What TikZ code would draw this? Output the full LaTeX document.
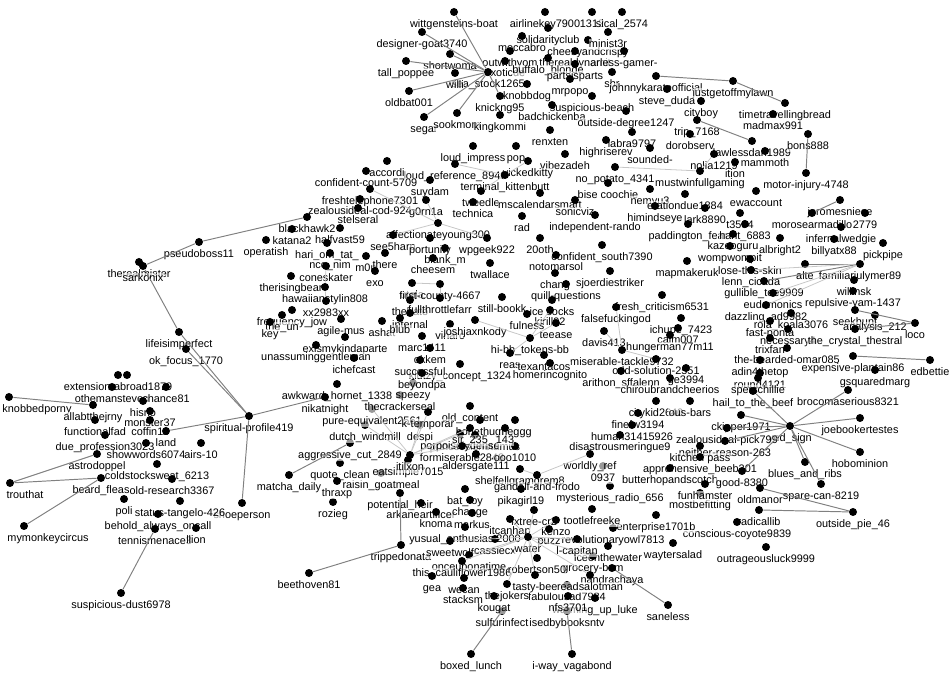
\documentclass[tikz,border=0pt]{standalone}
\usepackage{fontspec}
\setmainfont{Liberation Sans}
\usetikzlibrary{positioning}
\tikzset{
dot/.style={
	circle,fill=black,draw=none,
	inner sep=0pt,minimum size=1.6mm
}
, acct/.style={dot,label=below:{#1}}
, every label/.style={
	font=\fontsize{6.2}{7}\selectfont,
	inner sep=0.2pt,text height=1.6mm,text depth=0.5mm,
	fill=white,fill opacity=0.6,text opacity=1
}
% links
, link/.style={draw=black!50,line width=0.55pt}
, faint/.style={draw=black!22,line width=0.45pt}
}

\begin{document}
\begin{tikzpicture}[x=0.02cm,y=-0.02cm,label distance=0.5mm]
	\useasboundingbox (0,0) rectangle (950,678);
	% top cluster
	\node[acct=wittgensteins-boat] (wittgen) at (454,12) {};
	\node[acct=airlinekey7900] (airline) at (545,12) {};
	\node[acct=1312] (n1312) at (592,12) {};
	\node[acct=sical\_2574] (sical) at (622,12) {};
	\node[acct=solidarityclub] (solidarity) at (548,28) {};
	\node[acct=designer-goat3740] (designer) at (422,32) {};
	\node[acct=moccabro] (moccabro) at (522,36) {};
	\node[acct=cheesyandcrispy] (cheesy) at (588,40) {};
	\node[acct=minist3r] (minist) at (608,32) {};
	\node[acct=shortwoma] (shortwoma) at (450,54) {};
	\node[acct=outwithyom] (outwithyom) at (510,51) {};
	\node[acct=therealdynamit] (therealdyn) at (575,51) {};
	\node[acct=arless-gamer-] (fearless) at (624,51) {};
	\node[acct=tall\_poppee] (tallpoppee) at (406,61) {};
	\node[acct=exoticde] (exoticde) at (505,61) {};
	\node[acct=buffalo\_blonde] (buffalo) at (548,58) {};
	\node[acct=partsisparts] (partsis) at (575,64) {};
	\node[acct=sea\_stock1265] (seastock) at (488,72) {};
	\node[acct=willi] (willi) at (455,73) {};
	\node[acct=mrpopo] (mrpopo) at (570,79) {};
	\node[acct=shr] (shr) at (612,72) {};
	\node[acct=johnnykarateofficial] (johnny) at (656,76) {};
	\node[acct=oldbat001] (oldbat) at (409,91) {};
	\node[acct=knobbdog] (knobbdog) at (527,84) {};
	\node[acct=justgetoffmylawn] (justget) at (733,81) {};
	\node[acct=steve\_duda] (steveduda) at (667,89) {};
	\node[acct=suspicious-beach] (susbeach) at (592,96) {};
	\node[acct=knickng95] (knickng) at (500,96) {};
	\node[acct=cityboy] (cityboy) at (701,101) {};
	\node[acct=timetravellingbread] (timetrav) at (785,103) {};
	\node[acct=segar] (segar) at (424,117) {};
	\node[acct=sookmom] (sookmom) at (457,113) {};
	\node[acct=kingkommi] (kingkom) at (500,115) {};
	\node[acct=badchickenba] (badchicken) at (552,105) {};
	\node[acct=outside-degree1247] (outsidedeg) at (626,111) {};
	\node[acct=madmax991] (madmax) at (773,114) {};
	\node[acct=renxten] (renxten) at (550,130) {};
	\node[acct=trip\_7168] (trip) at (697,120) {};
	\node[acct=labra9797] (labra) at (632,132) {};
	\node[acct=dorobserv] (dorobserv) at (690,134) {};
	\node[acct=lawlessdan1989] (lawless) at (752,141) {};
	\node[acct=bons888] (bons) at (808,134) {};
	\node[acct=highriserev] (highrise) at (606,140) {};
	\node[acct=mammoth] (mammoth) at (765,151) {};
	\node[acct=vibezadeh] (vibezadeh) at (565,154) {};
	\node[acct=sounded-] (sounded) at (650,148) {};
	\node[acct=nolia1219] (nolia) at (714,154) {};
	\node[acct=ition] (ition) at (735,162) {};
	\node[acct=no\_potato\_4341] (nopotato) at (615,167) {};
	\node[acct=mustwinfullgaming] (mustwin) at (700,171) {};
	\node[acct=motor-injury-4748] (motor) at (806,173) {};
	% upper core
	\node[acct=loud\_impress] (loudimp) at (473,146) {};
	\node[acct=loud\_reference\_8946] (loudref) at (455,164) {};
	\node[acct=pop] (pop) at (516,146) {};
	\node[acct=vickedkitty] (vicked) at (528,161) {};
	\node[acct=accordi] (accordi) at (387,161) {};
	\node[acct=confident-count-5709] (confcount) at (366,171) {};
	\node[acct=suydam] (suydam) at (430,180) {};
	\node[acct=terminal\_kittenbutt] (terminal) at (505,175) {};
	\node[acct={bise coochie}] (bise) at (608,183) {};
	\node[acct=nemyu3] (nemyu) at (650,189) {};
	\node[acct=erationdue1884] (arationdue) at (685,194) {};
	\node[acct=ewaccount] (ewaccount) at (756,191) {};
	\node[acct=jeromesniece] (jerome) at (840,200) {};
	\node[acct=freshtelephone7301] (freshtel) at (370,189) {};
	\node[acct=tweedle] (tweedle) at (481,191) {};
	\node[acct=mscalendarsmart] (mscal) at (540,193) {};
	\node[acct=sonicviz] (sonicviz) at (575,200) {};
	\node[acct=zealousideal-cod-924] (zealcod) at (360,199) {};
	\node[acct=g0rn1a] (g0rn) at (426,200) {};
	\node[acct=technica] (technica) at (473,202) {};
	\node[acct=himindseye] (himinds) at (655,206) {};
	\node[acct=lark8890] (lark) at (705,208) {};
	\node[acct=t3584] (t3584) at (740,213) {};
	\node[acct=morosearmadillo] (morose) at (812,213) {};
	\node[acct=2779] (n2779) at (865,213) {};
	\node[acct=stelseral] (stelseral) at (358,208) {};
	\node[acct=independent-rando] (indep) at (595,215) {};
	\node[acct=rad] (rad) at (522,216) {};
	\node[acct=blackhawk2] (blackhawk) at (307,217) {};
	\node[acct=paddington\_fear] (paddington) at (688,224) {};
	\node[acct=hant\_6883] (hant) at (745,224) {};
	\node[acct=infernalwedgie] (infernal) at (841,227) {};
	\node[acct=affectionateyoung300] (affection) at (438,223) {};
	\node[acct=halfvast59] (halfvast) at (340,228) {};
	\node[acct=katana2] (katana) at (292,229) {};
	\node[acct=see5harp] (see5harp) at (393,235) {};
	\node[acct=portunity] (portunity) at (430,238) {};
	\node[acct=wpgeek922] (wpgeek) at (487,238) {};
	\node[acct=20oth] (oth20) at (540,238) {};
	\node[acct=confident\_south7390] (confsouth) at (602,245) {};
	\node[acct=kazooguru] (kazoo) at (733,234) {};
	\node[acct=albright2] (albright) at (780,238) {};
	\node[acct=billyatx88] (billyatx) at (834,239) {};
	\node[acct=wompwompit] (wompwomp) at (730,246) {};
	\node[acct=pickpipe] (pickpipe) at (883,243) {};
	% middle core
	\node[acct=operatish] (operatish) at (266,240) {};
	\node[acct=hari\_om\_tat\_] (hariom) at (327,243) {};
	\node[acct=nco\_nim] (nconim) at (330,253) {};
	\node[acct=m0n] (m0n) at (366,256) {};
	\node[acct=there] (there) at (385,253) {};
	\node[acct=blank\_m] (blank) at (445,248) {};
	\node[acct=cheesem] (cheesem) at (433,258) {};
	\node[acct=notomarsol] (notomarsol) at (556,255) {};
	\node[acct=mapmakeruk] (mapmaker) at (687,261) {};
	\node[acct=lose-this-skin] (loseskin) at (750,259) {};
	\node[acct=lenn\_cicada] (lenn) at (751,270) {};
	\node[acct=familiarjulymer89] (familiar) at (860,264) {};
	\node[acct=alte] (alte) at (805,264) {};
	\node[acct=willinsk] (willinsk) at (854,280) {};
	\node[acct=coneskater] (coneskater) at (326,266) {};
	\node[acct=therisingbear] (therising) at (291,276) {};
	\node[acct=exo] (exo) at (375,271) {};
	\node[acct=utela] (utela) at (412,283) {};
	\node[acct=first-county-4667] (firstcounty) at (440,284) {};
	\node[acct=twallace] (twallace) at (490,263) {};
	\node[acct=chang] (chang) at (555,273) {};
	\node[acct=sjoerdiestriker] (sjoerdie) at (610,271) {};
	\node[acct=quill-questions] (quill) at (566,284) {};
	\node[acct=gullible\_toe9909] (gullible) at (764,281) {};
	\node[acct=repulsive-yam-1437] (repulsive) at (853,291) {};
	\node[acct=hawaiianstylin808] (hawaiian) at (325,287) {};
	\node[acct=thehato] (thehato) at (410,300) {};
	\node[acct=fullthrottlefarr] (fullthrottle) at (440,298) {};
	\node[acct=still-bookk] (stillbook) at (502,297) {};
	\node[acct={ice socks}] (icesocks) at (552,300) {};
	\node[acct=fresh\_criticism6531] (freshcrit) at (662,295) {};
	\node[acct=eudamonics] (eudamonics) at (773,293) {};
	\node[acct=dazzling\_ad9982] (dazzling) at (766,305) {};
	\node[acct=seekhunt] (seekhunt) at (855,310) {};
	\node[acct=analysis\_212] (analysis) at (875,315) {};
	\node[acct=loco] (loco) at (915,323) {};
	\node[acct=xx2983xx] (xx2983) at (326,301) {};
	\node[acct=frequency\_jow] (frequency) at (292,310) {};
	\node[acct=the\_un] (theun) at (282,315) {};
	\node[acct=internal] (internal) at (410,313) {};
	\node[acct=agile-mus] (agilemus) at (341,319) {};
	\node[acct=key] (key) at (270,322) {};
	\node[acct=ashat] (ashat) at (382,321) {};
	\node[acct=blub] (blub) at (400,318) {};
	\node[acct=vinarc] (vinarc) at (450,324) {};
	\node[acct=joshjaxnkody] (joshjax) at (475,320) {};
	\node[acct=kirill92] (kirill) at (550,310) {};
	\node[acct=fulness] (fulness) at (527,314) {};
	\node[acct=teease] (teease) at (556,323) {};
	\node[acct=falsefuckingod] (falsefuck) at (616,307) {};
	\node[acct=ichupe\_7423] (ichupe) at (681,318) {};
	\node[acct=rola\_koala3076] (rolakoala) at (791,313) {};
	\node[acct=fast-ponta] (fastponta) at (770,321) {};
	\node[acct=calm007] (calm) at (678,328) {};
	\node[acct=necessary4] (necessary) at (788,329) {};
	\node[acct=the\_crystal\_thestral] (crystal) at (855,329) {};
	\node[acct=trixfan] (trixfan) at (770,338) {};
	\node[acct=hungerman77m11] (hunger) at (670,335) {};
	\node[acct=exismykindaparte] (exismy) at (345,337) {};
	\node[acct=marc1411] (marc) at (422,336) {};
	\node[acct=unassuminggentleman] (unassuming) at (316,345) {};
	\node[acct=okkem] (okkem) at (430,348) {};
	\node[acct=hi-bb\_tokens-bb] (hibb) at (530,338) {};
	\node[acct=davis413] (davis) at (604,331) {};
	\node[acct=miserable-tackle9732] (miserable) at (622,350) {};
	\node[acct=the-bearded-omar085] (bearded) at (787,348) {};
	\node[acct=expensive-plantain86] (expensive) at (853,356) {};
	\node[acct=edbettie] (edbettie) at (930,360) {};
	\node[acct=odd-solution-2551] (oddsol) at (656,359) {};
	\node[acct=adin4thetop] (adin) at (760,360) {};
	\node[acct=reas] (reas) at (510,353) {};
	\node[acct=texantacos] (texantacos) at (544,355) {};
	\node[acct=klutzy\_concept\_1324] (klutzy) at (460,364) {};
	\node[acct=homerincognito] (homer) at (550,363) {};
	\node[acct=ichefcast] (ichef) at (354,358) {};
	\node[acct=successful] (successful) at (420,360) {};
	\node[acct=arithon\_sffalenn] (arithon) at (621,371) {};
	\node[acct=ge3994] (ge3994) at (686,368) {};
	\node[acct=round4121] (round) at (760,373) {};
	\node[acct=gsquaredmarg] (gsquared) at (875,370) {};
	\node[acct=sperschillie] (spers) at (758,378) {};
	\node[acct=brocomaserious8321] (broco) at (848,390) {};
	\node[acct=chiroubrandcheerios] (chirou) at (670,378) {};
	\node[acct=hail\_to\_the\_beef] (hailbeef) at (753,391) {};
	\node[acct=citykid2640] (citykid) at (656,401) {};
	\node[acct=ous-bars] (ousbars) at (690,401) {};
	\node[acct=finefw3194] (finef) at (638,413) {};
	\node[acct=human31415926] (human) at (632,425) {};
	\node[acct=ckipper1971] (ckipper) at (741,415) {};
	% right side
	\node[acct=yed\_sign] (yedsign) at (790,426) {};
	\node[acct=joebookertestes] (joebooker) at (860,418) {};
	\node[acct=zealousideal-pick799] (zealpick) at (727,428) {};
	\node[acct=hobominion] (hobominion) at (860,452) {};
	\node[acct=blues\_and\_ribs] (blues) at (805,462) {};
	\node[acct=neither-reason-263] (neither) at (725,441) {};
	\node[acct=disastrousmeringue9] (disastrous) at (620,435) {};
	\node[acct={kitchen pass}] (kitchen) at (700,446) {};
	\node[acct=apprehensive\_beeb201] (apprehensive) at (700,457) {};
	\node[acct=butterhopandscotch] (butterhop) at (670,468) {};
	\node[acct=spare-can-8219] (sparecan) at (821,484) {};
	\node[acct=good-8380] (good) at (742,471) {};
	\node[acct=oldmanor] (oldmanor) at (760,488) {};
	\node[acct=radicallib] (radicallib) at (759,510) {};
	\node[acct=outside\_pie\_46] (outsidepie) at (853,512) {};
	\node[acct=conscious-coyote9839] (conscious) at (737,522) {};
	\node[acct=outrageousluck9999] (outrageous) at (766,547) {};
	\node[acct=mostbefitting] (mostbef) at (700,493) {};
	\node[acct=funhamster] (funham) at (705,484) {};
	% lower core
	\node[acct=mysterious\_radio\_656] (mysterious) at (610,486) {};
	\node[acct=enterprise1701b] (enterprise) at (656,515) {};
	\node[acct=revolutionaryowl7813] (revowl) at (613,528) {};
	\node[acct=waytersalad] (waytersalad) at (673,543) {};
	\node[acct=iceonthewater] (iceonwater) at (608,546) {};
	\node[acct=grocery-bam] (grocery) at (593,556) {};
	\node[acct=nandrachaya] (nandrachaya) at (612,568) {};
	\node[acct=saneless] (saneless) at (668,605) {};
	\node[acct=fabulousad7924] (fabulous) at (567,585) {};
	\node[acct=warming\_up\_luke] (warming) at (595,598) {};
	\node[acct=sulfurinfect] (sulfur) at (502,611) {};
	\node[acct=isedbybooksntv] (isedby) at (567,611) {};
	\node[acct=boxed\_lunch] (boxedlunch) at (471,654) {};
	\node[acct=i-way\_vagabond] (iway) at (572,654) {};
	\node[acct=beethoven81] (beethoven) at (309,573) {};
	\node[acct=trippedonata] (tripped) at (401,545) {};
	\node[acct=rozieg] (rozieg) at (333,502) {};
	\node[acct=shoeperson] (shoeperson) at (242,503) {};
	\node[acct=matcha\_daily] (matcha) at (289,475) {};
	\node[acct=raisin\_goatmeal] (raisin) at (381,473) {};
	\node[acct=quote\_clean] (quoteclean) at (340,463) {};
	\node[acct=eatsimple7015] (eatsimple) at (408,460) {};
	\node[acct=thraxp] (thraxp) at (337,481) {};
	\node[acct=aggressive\_cut\_2849] (aggressive) at (350,443) {};
	\node[acct=itilxon] (itilxon) at (410,455) {};
	\node[acct=dutch\_windmill] (dutch) at (365,425) {};
	\node[acct=pure-equivalent2561] (pureeq) at (372,409) {};
	\node[acct=thecrackerseal] (cracker) at (400,395) {};
	\node[acct=awkward\_hornet\_1338] (awkward) at (337,384) {};
	\node[acct=nikatnight] (nikatnight) at (325,397) {};
	\node[acct=speezy] (speezy) at (413,383) {};
	\node[acct=beyondpa] (beyondpa) at (422,373) {};
	\node[acct=old\_content] (oldcontent) at (470,406) {};
	\node[acct=bonethugf] (bonethug) at (480,420) {};
	\node[acct=meggg] (meggg) at (515,420) {};
	\node[acct=princessisnotamus] (princess) at (475,435) {};
	\node[acct=despi] (despi) at (420,425) {};
	\node[acct=porpoiselydense] (porpoise) at (460,434) {};
	\node[acct=sir\_235] (sir235) at (470,428) {};
	\node[acct=k-temporar] (ktemp) at (428,412) {};
	\node[acct=formiserable2848] (formiserable) at (462,446) {};
	\node[acct=ooo1010] (ooo1010) at (515,446) {};
	\node[acct=143] (n143) at (505,428) {};
	\node[acct=aldersgate111] (aldersgate) at (476,454) {};
	\node[acct=shelfellgramgrem8] (shelf) at (520,469) {};
	\node[acct=0937] (n0937) at (603,466) {};
	\node[acct=gandalf-and-frodo] (gandalf) at (537,475) {};
	\node[acct=worldly\_ref] (worldly) at (590,454) {};
	\node[acct=bat\_foy] (batfoy) at (465,489) {};
	\node[acct=potential\_heir] (potential) at (400,493) {};
	\node[acct=pikagirl19] (pikagirl) at (521,489) {};
	\node[acct=arkaneartificer] (arkane) at (421,503) {};
	\node[acct=change] (change) at (470,500) {};
	\node[acct=knoma] (knoma) at (436,512) {};
	\node[acct=markus] (markus) at (472,513) {};
	\node[acct=fxtree-cr2] (fxtree) at (534,510) {};
	\node[acct=tootlefreeke] (tootle) at (592,509) {};
	\node[acct=itcanhap] (itcanhap) at (510,519) {};
	\node[acct=kenzo] (kenzo) at (556,520) {};
	\node[acct=yusual\_enthusiast2000] (yusual) at (465,527) {};
	\node[acct=puzz] (puzz) at (549,529) {};
	\node[acct=sweetwolf] (sweetwolf) at (450,541) {};
	\node[acct=cassiecx] (cassiecx) at (495,539) {};
	\node[acct=water] (water) at (528,537) {};
	\node[acct=l-capitan] (lcapitan) at (577,539) {};
	\node[acct=onceuponatime] (onceupon) at (469,555) {};
	\node[acct=this\_cauliflower1986] (cauliflower) at (462,561) {};
	\node[acct=robertson50] (robertson) at (537,558) {};
	\node[acct=gea] (gea) at (432,576) {};
	\node[acct=wecan] (wecan) at (464,578) {};
	\node[acct=tasty-bee] (tastybee) at (535,575) {};
	\node[acct=readsalotman] (readsalot) at (590,575) {};
	\node[acct=thejokers] (thejokers) at (507,584) {};
	\node[acct=stacksm] (stacksm) at (463,588) {};
	\node[acct=kougat] (kougat) at (494,596) {};
	\node[acct=nfs3701] (nfs) at (568,596) {};
	% left side
	\node[acct=pseudoboss11] (pseudoboss) at (199,242) {};
	\node[acct=therealmister] (therealmister) at (139,262) {};
	\node[acct=sarkonix] (sarkonix) at (143,266) {};
	\node[acct=lifeisimperfect] (lifeisimp) at (179,332) {};
	\node[acct=ok\_focus\_1770] (okfocus) at (186,349) {};
	\node[acct=spiritual-profile419] (spiritual) at (249,416) {};
	\node[acct=extension-abroad1879] (extension) at (118,375) {};
	\node[dot] (abroad) at (127,375) {};
	\node[acct=othemansteveo] (othemans) at (112,387) {};
	\node[acct=chance81] (chance) at (166,387) {};
	\node[dot,label={[xshift=0.56cm]below:knobbedporny}] (knobbedporn) at (9,397) {};
	\node[acct=allabtthejrny] (allabt) at (93,405) {};
	\node[acct=hisno] (hisno) at (143,401) {};
	\node[acct=monster37] (monster) at (150,411) {};
	\node[acct=functionalfad] (functional) at (95,420) {};
	\node[acct=coffin11] (coffin) at (150,420) {};
	\node[acct=due\_profession3023] (dueprof) at (105,435) {};
	\node[acct=land] (land) at (166,431) {};
	\node[acct=showwords6074] (showwords) at (146,443) {};
	\node[acct=airs-10] (airs) at (201,443) {};
	\node[acct=astrodoppel] (astrodoppel) at (97,454) {};
	\node[acct=coldstocksweat\_6213] (coldstock) at (157,464) {};
	\node[acct=beard\_fleas] (beardfleas) at (101,478) {};
	\node[acct=old-research3367] (oldresearch) at (172,479) {};
	\node[acct=status-tangelo-426] (statustangelo) at (180,501) {};
	\node[acct=poli] (poli) at (124,499) {};
	\node[acct=behold\_always\_oncall] (behold) at (158,514) {};
	\node[acct=tennismenace3] (tennis) at (155,529) {};
	\node[acct=llion] (llion) at (196,528) {};
	\node[acct=suspicious-dust6978] (susdust) at (121,593) {};
	\node[dot,label={[xshift=0.48cm]below:mymonkeycircus}] (mymonkey) at (24,526) {};
	\node[dot,label={[xshift=0.3cm]below:trouthat}] (trouthat) at (10,483) {};

	% links
	\draw [link] (pseudoboss) -- (blackhawk);
	\draw [link] (pseudoboss) -- (sarkonix);
	\draw [link] (sarkonix) -- (lifeisimp);
	\draw [link] (lifeisimp) -- (spiritual);
	\draw [link] (okfocus) -- (spiritual);
	\draw [link] (spiritual) -- (nikatnight);
	\draw [link] (spiritual) -- (shoeperson);
	\draw [link] (spiritual) -- (land);
	\draw [link] (knobbedporn) -- (allabt);
	\draw [link] (trouthat) -- (beardfleas);
	\draw [link] (trouthat) -- (astrodoppel);
	\draw [link] (mymonkey) -- (beardfleas);
	\draw [link] (susdust) -- (tennis);
	\draw [link] (matcha) -- (aggressive);
	\draw [link] (beethoven) -- (tripped);
	\draw [link] (tripped) -- (potential);
	\draw [link] (sulfur) -- (boxedlunch);
	\draw [link] (isedby) -- (iway);
	\draw [link] (saneless) -- (nandrachaya);
	\draw [link] (outsidepie) -- (radicallib);
	\draw [link] (outsidepie) -- (oldmanor);
	\draw [link] (yedsign) -- (joebooker);
	\draw [link] (yedsign) -- (hobominion);
	\draw [link] (yedsign) -- (blues);
	\draw [link] (yedsign) -- (sparecan);
	\draw [link] (yedsign) -- (broco);
	\draw [link] (yedsign) -- (ckipper);
	\draw [link] (yedsign) -- (zealpick);
	\draw [link] (yedsign) -- (hailbeef);
	\draw [link] (yedsign) -- (neither);
	\draw [link] (yedsign) -- (good);
	\draw [link] (edbettie) -- (expensive);
	\draw [link] (loco) -- (seekhunt);
	\draw [link] (loco) -- (crystal);
	\draw [link] (familiar) -- (alte);
	\draw [link] (familiar) -- (gullible);
	\draw [link] (jerome) -- (morose);
	\draw [link] (timetrav) -- (justget);
	\draw [link] (justget) -- (johnny);
	\draw [link] (bons) -- (motor);
	\draw [link] (lawless) -- (trip);
	\draw [link] (seastock) -- (tallpoppee);
	\draw [link] (seastock) -- (oldbat);
	\draw [link] (seastock) -- (segar);
	\draw [link] (seastock) -- (sookmom);
	\draw [link] (seastock) -- (designer);
	\draw [link] (seastock) -- (wittgen);
	\draw [link] (seastock) -- (shortwoma);
	\draw [link] (seastock) -- (knickng);
	% faint core links
	\draw [faint] (itilxon) -- (dutch);
	\draw [faint] (itilxon) -- (pureeq);
	\draw [faint] (itilxon) -- (despi);
	\draw [faint] (itilxon) -- (porpoise);
	\draw [faint] (itilxon) -- (ktemp);
	\draw [faint] (itilxon) -- (formiserable);
	\draw [faint] (itilxon) -- (sir235);
	\draw [faint] (water) -- (onceupon);
	\draw [faint] (water) -- (cauliflower);
	\draw [faint] (water) -- (tastybee);
	\draw [faint] (water) -- (thejokers);
	\draw [faint] (water) -- (readsalot);
	\draw [faint] (water) -- (grocery);
	\draw [faint] (water) -- (lcapitan);
	\draw [faint] (water) -- (kenzo);
	\draw [faint] (water) -- (itcanhap);
	\draw [faint] (water) -- (fxtree);
	\draw [faint] (water) -- (sweetwolf);
	\draw [faint] (water) -- (robertson);
	\draw [faint] (familiar) -- (eudamonics);
	\draw [faint] (familiar) -- (dazzling);
	\draw [faint] (familiar) -- (lenn);
	\draw [faint] (affection) -- (freshtel);
	\draw [faint] (affection) -- (see5harp);
	\draw [faint] (affection) -- (g0rn);
	\draw [faint] (affection) -- (wpgeek);
	\draw [faint] (terminal) -- (loudref);
	\draw [faint] (terminal) -- (tweedle);
	\draw [faint] (terminal) -- (vicked);
	\draw [faint] (hibb) -- (joshjax);
	\draw [faint] (hibb) -- (teease);
	\draw [faint] (hibb) -- (reas);
	\draw [faint] (hibb) -- (kirill);
	\draw [faint] (miserable) -- (oddsol);
	\draw [faint] (miserable) -- (falsefuck);
	\draw [faint] (miserable) -- (davis);
	\draw [faint] (firstcounty) -- (utela);
	\draw [faint] (firstcounty) -- (fullthrottle);
	\draw [faint] (hawaiian) -- (coneskater);
	\draw [faint] (hawaiian) -- (xx2983);
	\draw [faint] (gandalf) -- (shelf);
	\draw [faint] (gandalf) -- (worldly);
	\draw [faint] (mustwin) -- (nolia);
	\draw [faint] (mustwin) -- (nopotato);
\end{tikzpicture}
\end{document}
